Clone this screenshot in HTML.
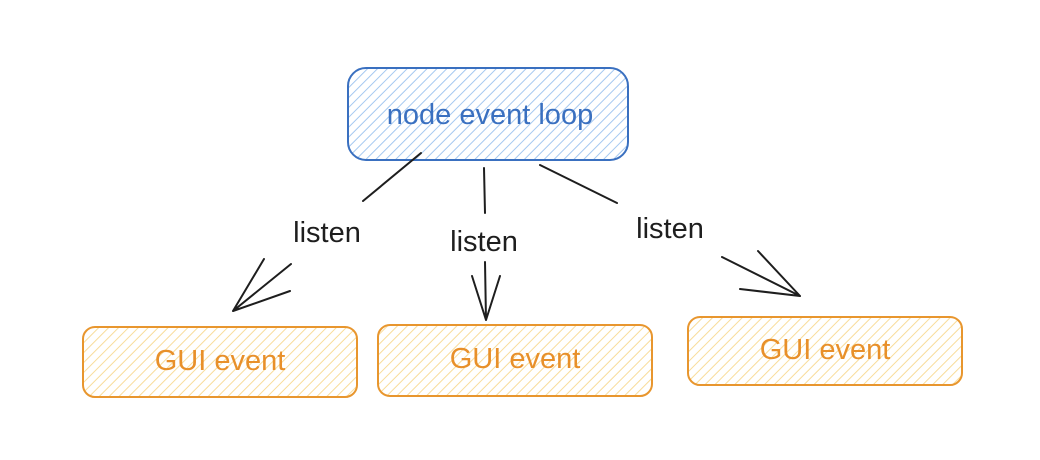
<!DOCTYPE html>
<html><head><style>body{margin:0;background:#fff}svg{display:block}</style></head><body>
<svg width="1040" height="460" xmlns="http://www.w3.org/2000/svg">
<defs>
<pattern id="hb" width="7" height="7" patternUnits="userSpaceOnUse" patternTransform="rotate(45)"><line x1="0" y1="0" x2="0" y2="7" stroke="#a5c8f0" stroke-width="2"/></pattern>
<pattern id="ho" width="7" height="7" patternUnits="userSpaceOnUse" patternTransform="rotate(45)"><line x1="0" y1="0" x2="0" y2="7" stroke="#f8dc9a" stroke-width="2"/></pattern>
</defs>
<g font-family="'Comic Sans MS','Liberation Sans',sans-serif" font-size="29" text-anchor="middle">
<rect x="348" y="68" width="280" height="92" rx="18" fill="url(#hb)" stroke="#3a70c0" stroke-width="2"/>
<text x="490" y="124" fill="#3a70c0">node event loop</text>
<rect x="83" y="327" width="274" height="70" rx="12" fill="url(#ho)" stroke="#e8962e" stroke-width="2"/>
<text x="220" y="370" fill="#e8902a">GUI event</text>
<rect x="378" y="325" width="274" height="71" rx="12" fill="url(#ho)" stroke="#e8962e" stroke-width="2"/>
<text x="515" y="368" fill="#e8902a">GUI event</text>
<rect x="688" y="317" width="274" height="68" rx="12" fill="url(#ho)" stroke="#e8962e" stroke-width="2"/>
<text x="825" y="359" fill="#e8902a">GUI event</text>
<g fill="#1e1e1e">
<text x="327" y="242">listen</text>
<text x="484" y="251">listen</text>
<text x="670" y="238">listen</text>
</g>
</g>
<g stroke="#1e1e1e" stroke-width="2" fill="none" stroke-linecap="round">
<path d="M421 153 L363 201 M291 264 L233 311 M233 311 L264 259 M233 311 L290 291"/>
<path d="M484 168 L485 213 M485 262 L486 320 M486 320 L472 276 M486 320 L500 276"/>
<path d="M540 165 L617 203 M722 257 L800 296 M800 296 L758 251 M800 296 L740 289"/>
</g>
</svg>
</body></html>
